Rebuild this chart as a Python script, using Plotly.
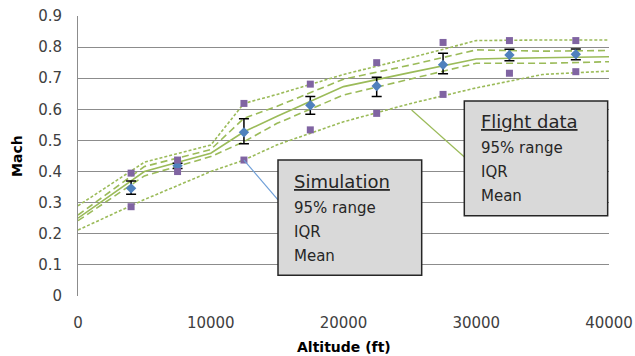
import plotly.graph_objects as go

# Simulation envelope (Mach vs altitude)
sim_alt = [0, 5000, 10000, 12500, 15000, 20000, 25000, 30000, 35000, 40000]
sim_p975 = [0.290, 0.430, 0.485, 0.619, 0.648, 0.712, 0.765, 0.821, 0.823, 0.823]
sim_q3 = [0.260, 0.416, 0.471, 0.571, 0.610, 0.697, 0.742, 0.791, 0.787, 0.789]
sim_mean = [0.250, 0.400, 0.459, 0.528, 0.578, 0.673, 0.718, 0.762, 0.766, 0.769]
sim_q1 = [0.242, 0.386, 0.448, 0.496, 0.555, 0.646, 0.697, 0.748, 0.748, 0.753]
sim_p025 = [0.212, 0.310, 0.400, 0.437, 0.486, 0.560, 0.618, 0.669, 0.712, 0.723]

# Flight data statistics per altitude bin
fl_alt = [4000, 7500, 12500, 17500, 22500, 27500, 32500, 37500]
fl_p975 = [0.395, 0.437, 0.619, 0.681, 0.750, 0.815, 0.821, 0.821]
fl_p025 = [0.287, 0.400, 0.437, 0.534, 0.587, 0.648, 0.716, 0.721]
fl_mean = [0.346, 0.419, 0.526, 0.613, 0.675, 0.743, 0.775, 0.777]
fl_q3 = [0.370, 0.427, 0.570, 0.641, 0.703, 0.780, 0.793, 0.794]
fl_q1 = [0.327, 0.410, 0.489, 0.584, 0.641, 0.714, 0.756, 0.759]

x_ticks = [0, 10000, 20000, 30000, 40000]
y_ticks = [0, 0.1, 0.2, 0.3, 0.4, 0.5, 0.6, 0.7, 0.8, 0.9]
y_labels = ["0", "0.1", "0.2", "0.3", "0.4", "0.5", "0.6", "0.7", "0.8", "0.9"]

GREEN = "#9bbb59"
FONT = "DejaVu Sans"

fig = go.Figure()

for ys, dash in [(sim_p975, "3px,2px"), (sim_q3, "7px,4px"), (sim_mean, "solid"),
                 (sim_q1, "7px,4px"), (sim_p025, "3px,2px")]:
    fig.add_trace(go.Scatter(x=sim_alt, y=ys, mode="lines",
                             line=dict(color=GREEN, width=1.6, dash=dash),
                             hoverinfo="skip"))

err_up = [h - m for h, m in zip(fl_q3, fl_mean)]
err_dn = [m - l for m, l in zip(fl_mean, fl_q1)]
fig.add_trace(go.Scatter(
    x=fl_alt, y=fl_mean, mode="markers",
    marker=dict(symbol="diamond", size=8, color="#4f81bd"),
    error_y=dict(type="data", array=err_up, arrayminus=err_dn,
                 color="black", thickness=1.5, width=5)))
for ys in (fl_p975, fl_p025):
    fig.add_trace(go.Scatter(x=fl_alt, y=ys, mode="markers",
                             marker=dict(symbol="square", size=7, color="#8064a2")))

# Callout boxes with leader lines
fig.add_shape(type="line", x0=12500, y0=0.437, x1=15066, y1=0.309,
              xref="x", yref="y", line=dict(color="#6f9fd8", width=1.2), layer="above")
fig.add_shape(type="line", x0=25130, y0=0.598, x1=29150, y1=0.445,
              xref="x", yref="y", line=dict(color=GREEN, width=1.2), layer="above")

boxes = [
    dict(x0=15066, x1=25890, y0=0.0665, y1=0.437, title="Simulation",
         tx=16100, ty=[0.368, 0.282, 0.207, 0.130]),
    dict(x0=29100, x1=39900, y0=0.258, y1=0.627, title="Flight data",
         tx=30240, ty=[0.560, 0.475, 0.400, 0.322]),
]
for b in boxes:
    fig.add_shape(type="rect", x0=b["x0"], x1=b["x1"], y0=b["y0"], y1=b["y1"],
                  xref="x", yref="y", fillcolor="#d9d9d9",
                  line=dict(color="#262626", width=1.5), layer="above")
    texts = ["<u>" + b["title"] + "</u>", "95% range", "IQR", "Mean"]
    sizes = [18, 15, 15, 15]
    for t, yy, s in zip(texts, b["ty"], sizes):
        fig.add_annotation(x=b["tx"], y=yy, xref="x", yref="y", text=t,
                           showarrow=False, xanchor="left", yanchor="middle",
                           font=dict(family=FONT, size=s, color="#262626"))

# Axis titles
fig.add_annotation(text="<b>Mach</b>", x=-61 / 531, y=0.5, xref="paper", yref="paper",
                   showarrow=False, textangle=-90, xanchor="center", yanchor="middle",
                   font=dict(family=FONT, size=14, color="black"))
fig.add_annotation(text="<b>Altitude (ft)</b>", x=0.5, y=-51 / 280, xref="paper",
                   yref="paper", showarrow=False, xanchor="center", yanchor="middle",
                   font=dict(family=FONT, size=14, color="black"))

fig.update_layout(
    width=635, height=356,
    margin=dict(l=78, r=26, t=16, b=60, autoexpand=False),
    paper_bgcolor="white", plot_bgcolor="white",
    showlegend=False,
    font=dict(family=FONT, size=15, color="#404040"),
    xaxis=dict(range=[0, 40000], tickvals=x_ticks, ticktext=[str(v) for v in x_ticks],
               showgrid=False, zeroline=False, showline=False, automargin=False,
               ticks="", ticklabelstandoff=16,
               tickfont=dict(family=FONT, size=15, color="#404040")),
    yaxis=dict(range=[0, 0.9], tickvals=y_ticks, ticktext=y_labels,
               showgrid=True, gridcolor="#8c8c8c", gridwidth=1, automargin=False,
               zeroline=False, showline=True, linecolor="#8c8c8c", linewidth=1,
               ticks="", ticklabelstandoff=12,
               tickfont=dict(family=FONT, size=15, color="#404040")),
)

fig.write_html("out.html")
